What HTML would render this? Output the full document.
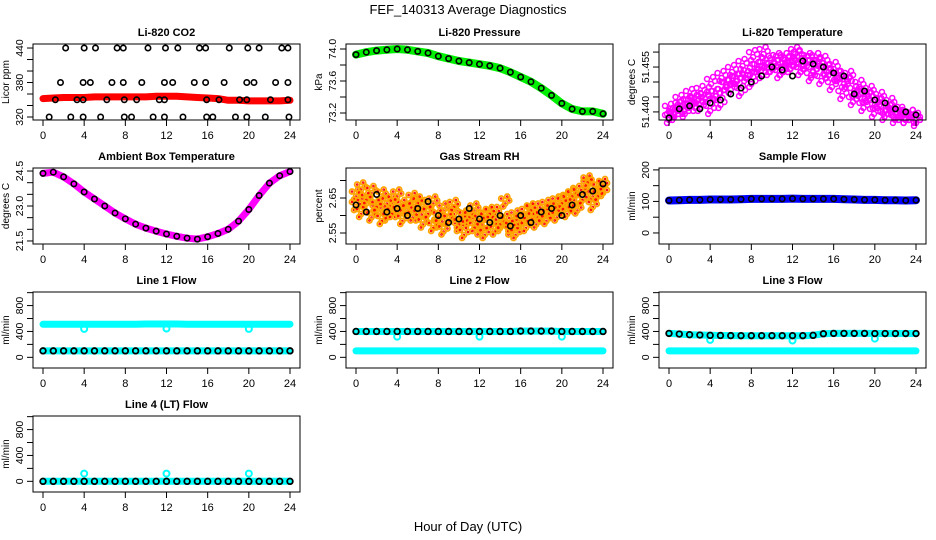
<!DOCTYPE html>
<html><head><meta charset="utf-8">
<style>
body{margin:0;background:#fff;}
svg{display:block;font-family:"Liberation Sans",sans-serif;}
</style></head>
<body>
<svg id="chart" width="936" height="540" viewBox="0 0 936 540" xmlns="http://www.w3.org/2000/svg">
<rect width="936" height="540" fill="#fff"/>
<text x="468" y="14" text-anchor="middle" font-size="13">FEF_140313  Average Diagnostics</text>
<text x="468" y="531" text-anchor="middle" font-size="13">Hour of Day (UTC)</text>
</svg>
<script>
// ---- data ----
const xTicks = [0,4,8,12,16,20,24];
const co2BandV = [352,353,354,354,354,355,355,355,355,355,355,356,356,356,355,354,353,352,349,349,348,348,348,348,349];
const co2BlackT = [2.2,4.0,5.1,7.2,7.8,10.2,11.9,13.1,15.2,15.8,18.1,19.9,21.0,23.2,23.8,
  1.7,3.9,4.6,6.7,7.8,9.6,11.8,12.6,14.7,15.8,17.6,19.8,20.5,22.6,23.8,
  1.2,3.3,3.9,6.2,7.9,9.1,11.3,11.8,15.9,17.1,19.1,19.8,22.1,23.8,
  0.6,2.7,3.9,5.6,7.9,8.6,10.7,11.8,13.6,15.9,16.5,18.7,19.8,21.6,23.9];
const co2BlackV = [440,440,440,440,440,440,440,440,440,440,440,440,440,440,440,
  380,380,380,380,380,380,380,380,380,380,380,380,380,380,380,
  350,350,350,350,350,350,350,350,350,350,350,350,350,350,
  320,320,320,320,320,320,320,320,320,320,320,320,320,320,320];
const pressV = [73.93,73.96,73.98,73.99,74.00,73.99,73.97,73.95,73.91,73.88,73.85,73.83,73.81,73.79,73.76,73.71,73.65,73.59,73.51,73.42,73.32,73.25,73.22,73.22,73.19];
const tempMag1 = [51.438,51.440,51.442,51.441,51.443,51.444,51.442,51.445,51.441,51.446,51.443,51.449,51.448,51.451,51.447,51.452,51.450,51.455,51.453,51.457,51.455,51.458,51.454,51.457,51.456,51.459,51.455,51.458,51.454,51.456,51.457,51.453,51.455,51.452,51.450,51.452,51.447,51.449,51.445,51.447,51.443,51.445,51.441,51.443,51.440,51.439,51.438,51.439,51.438];
const tempMag2 = [51.441,51.439,51.444,51.440,51.446,51.442,51.447,51.444,51.450,51.446,51.452,51.449,51.454,51.451,51.456,51.453,51.459,51.455,51.460,51.454,51.457,51.453,51.458,51.455,51.460,51.454,51.457,51.452,51.458,51.451,51.454,51.449,51.452,51.446,51.450,51.444,51.446,51.442,51.445,51.440,51.443,51.439,51.441,51.438,51.440,51.438,51.439,51.437];
const tempBlack = [51.438,51.441,51.442,51.441,51.443,51.444,51.446,51.448,51.450,51.452,51.455,51.454,51.452,51.457,51.456,51.455,51.453,51.452,51.446,51.447,51.444,51.443,51.441,51.440,51.439];
const ambV = [24.40,24.45,24.25,23.95,23.60,23.30,23.00,22.70,22.45,22.22,22.05,21.92,21.80,21.70,21.62,21.58,21.68,21.82,22.00,22.35,22.85,23.45,23.98,24.30,24.48];
const rh1 = [2.66,2.68,2.64,2.67,2.62,2.66,2.60,2.64,2.61,2.63,2.62,2.65,2.60,2.63,2.61,2.64,2.58,2.62,2.59,2.61,2.57,2.60,2.59,2.62,2.56,2.60,2.58,2.61,2.57,2.59,2.56,2.60,2.58,2.61,2.59,2.62,2.60,2.63,2.61,2.64,2.62,2.65,2.63,2.67,2.65,2.69,2.66,2.68,2.67];
const rh2 = [2.63,2.61,2.65,2.60,2.63,2.59,2.64,2.61,2.66,2.59,2.62,2.60,2.64,2.58,2.61,2.57,2.60,2.56,2.59,2.63,2.58,2.55,2.60,2.57,2.59,2.55,2.61,2.56,2.58,2.64,2.57,2.55,2.59,2.57,2.62,2.58,2.60,2.59,2.62,2.60,2.64,2.61,2.66,2.62,2.65,2.70,2.63,2.66,2.69];
const rhBlack = [2.63,2.61,2.66,2.61,2.62,2.60,2.62,2.64,2.60,2.58,2.59,2.62,2.59,2.58,2.60,2.57,2.60,2.58,2.61,2.62,2.60,2.63,2.66,2.67,2.69];
const sampleV = [103,104,105,105,106,106,106,107,108,108,108,108,109,108,108,108,108,107,106,105,105,104,104,103,104];
const dipT = [4,12,20];
const l1Upper = [510,510,510,510,510,510,510,510,510,510,515,515,515,515,512,512,512,512,512,512,512,512,512,512,512];
const l1Lower = [100,100,100,100,100,100,100,100,100,100,100,100,100,100,100,100,100,100,100,100,100,100,100,100,100];
const l1Dip = [440,445,440];
const l2Upper = [400,400,400,400,400,400,400,400,400,400,400,400,400,400,400,400,405,405,405,405,400,400,400,400,400];
const l2Lower = [100,100,100,100,100,100,100,100,100,100,100,100,100,100,100,100,100,100,100,100,100,100,100,100,100];
const l2Dip = [320,320,320];
const l3Upper = [370,360,350,345,340,338,336,335,335,335,335,335,335,335,340,365,370,370,370,370,368,368,368,368,368];
const l3Lower = [100,100,100,100,100,100,100,100,100,100,100,100,100,100,100,100,100,100,100,100,100,100,100,100,100];
const l3Dip = [270,260,290];
const l4Base = [0,0,0,0,0,0,0,0,0,0,0,0,0,0,0,0,0,0,0,0,0,0,0,0,0];
const l4Dip = [120,120,120];

// ---- layout ----
const NS = "http://www.w3.org/2000/svg";
const svg = document.getElementById('chart');
const colLeft = [33,346,659], rowTop = [44,168,292,416], BW = 267, BH = 76;
const jitterPx = [[-4,-3],[0,2],[4,-1],[-2,5],[2,-5]];
function mk(tag, attrs, parent){ const e=document.createElementNS(NS,tag); for(const k in attrs) e.setAttribute(k,attrs[k]); (parent||svg).appendChild(e); return e; }
function tIdx(i,n){ return i*24/(n-1); }

function panel(key, col, row, title, ylab, ylim, yTicks, yLabels){
  const g = mk('g',{});
  
  
  const L = colLeft[col], T = rowTop[row];
  const X = t => L + 10 + t*(BW-20)/24;
  const Y = v => T + BH - (v-ylim[0])/(ylim[1]-ylim[0])*BH;
  const tt = mk('text',{x:L+BW/2,y:T-8,'text-anchor':'middle','font-size':11,'font-weight':'bold'},g);
  tt.textContent = title;
  
  
  const yl = mk('text',{x:0,y:0,'text-anchor':'middle','font-size':10,transform:`translate(${L-24},${T+BH/2}) rotate(-90)`},g);
  yl.textContent = ylab;
  
  
  const data = mk('g',{},g);
  
  
  const box = mk('rect',{x:L,y:T,width:BW,height:BH,fill:'none',stroke:'#000','stroke-width':1},g);
  
  
  const xa = mk('g',{},g);
  
  
  mk('line',{x1:X(xTicks[0]),x2:X(xTicks[xTicks.length-1]),y1:T+BH,y2:T+BH,stroke:'#000'},xa);
  xTicks.forEach(t=>{
    mk('line',{x1:X(t),x2:X(t),y1:T+BH,y2:T+BH+6,stroke:'#000'},xa);
    const lb = mk('text',{x:X(t),y:T+BH+19,'text-anchor':'middle','font-size':11},xa);
    lb.textContent = t;
    
    
  });
  const ya = mk('g',{},g);
  
  
  yTicks.forEach(v=>{
    mk('line',{x1:L-6,x2:L,y1:Y(v),y2:Y(v),stroke:'#000'},ya);
  });
  yLabels.forEach(v=>{
    const lb = mk('text',{x:0,y:0,'text-anchor':'middle','font-size':10.5,transform:`translate(${L-10},${Y(v)}) rotate(-90)`},ya);
    lb.textContent = v;
    
    
  });
  return {X,Y,g:data};
}
function band(p, vals, color, w, name){
  const pts = vals.map((v,i)=>p.X(tIdx(i,vals.length)).toFixed(1)+','+p.Y(v).toFixed(1)).join(' ');
  const e = mk('polyline',{points:pts,fill:'none',stroke:color,'stroke-width':w,'stroke-linecap':'round','stroke-linejoin':'round'},p.g);
  
  
}
function circ(p, t, v, color, name, r, sw, dx, dy){
  const e = mk('circle',{cx:p.X(t)+(dx||0),cy:p.Y(v)+(dy||0),r:r||2.7,fill:'none',stroke:color,'stroke-width':sw||1.6},p.g);
  
  
}
function series(p, vals, color, name, r, sw){ vals.forEach((v,i)=>circ(p,tIdx(i,vals.length),v,color,name,r,sw)); }
function cloud(p, vals, color, name, r, sw, inner){
  vals.forEach((v,i)=>{ const t=tIdx(i,vals.length);
    jitterPx.forEach(j=>{ circ(p,t,v,color,name,r,sw,j[0],j[1]); if(inner) circ(p,t,v,inner,name+'-dot',0.8,1,j[0],j[1]); });
  });
}

// CO2
let p = panel('co2',0,0,'Li-820 CO2','Licor ppm',[314.8,447],[320,340,360,380,400,420,440],[320,380,440]);
band(p, co2BandV, '#ff0000', 7, 'co2-red-band');
co2BlackT.forEach((t,i)=>circ(p,t,co2BlackV[i],'#000','co2-black-point'));
// Pressure
p = panel('pressure',1,0,'Li-820 Pressure','kPa',[73.1125,74.0625],[73.2,73.4,73.6,73.8,74.0],['73.2','73.6','74.0']);
band(p, pressV, '#00ee00', 8, 'pressure-green-band');
series(p, pressV, '#000', 'pressure-black-point');
// Li temp
p = panel('li-temp',2,0,'Li-820 Temperature','degrees C',[51.4373,51.4627],[51.440,51.445,51.450,51.455,51.460],['51.440','51.455']);
cloud(p, tempMag1, '#ff00ff', 'temp-magenta-point', 2.5, 1.5);
cloud(p, tempMag2, '#ff00ff', 'temp-magenta-point', 2.5, 1.5);
series(p, tempBlack, '#000', 'temp-black-point');
// Ambient
p = panel('ambient',0,1,'Ambient Box Temperature','degrees C',[21.37,24.63],[21.5,22.0,22.5,23.0,23.5,24.0,24.5],['21.5','23.0','24.5']);
band(p, ambV, '#ff00ff', 7, 'ambient-magenta-band');
series(p, ambV, '#000', 'ambient-black-point');
// RH
p = panel('rh',1,1,'Gas Stream RH','percent',[2.5186,2.7357],[2.55,2.60,2.65,2.70],['2.55','2.65']);
cloud(p, rh1, '#ffa500', 'rh-orange-point', 2.5, 1.8, '#ff0000');
cloud(p, rh2, '#ffa500', 'rh-orange-point', 2.5, 1.8, '#ff0000');
series(p, rhBlack, '#000', 'rh-black-point');
// Sample flow
p = panel('sample-flow',2,1,'Sample Flow','ml/min',[-35,206],[0,50,100,150,200],[0,100,200]);
band(p, sampleV, '#0000ff', 8, 'sample-blue-band');
series(p, sampleV, '#000', 'sample-black-point');
// Line flows
const fl = [-165,1010], ft=[0,200,400,600,800,1000], fl2=[0,400,800];
function flow(key,col,row,title,up,low,dip,blackUp){
  const q = panel(key,col,row,title,'ml/min',fl,ft,fl2);
  band(q, up, '#00ffff', 7, key+'-cyan-upper');
  band(q, low, '#00ffff', 7, key+'-cyan-lower');
  dipT.forEach((t,i)=>circ(q,t,dip[i],'#00ffff',key+'-cyan-dip',3,2));
  series(q, blackUp?up:low, '#000', key+'-black-point', 2.8, 1.8);
}
flow('line1',0,2,'Line 1 Flow',l1Upper,l1Lower,l1Dip,false);
flow('line2',1,2,'Line 2 Flow',l2Upper,l2Lower,l2Dip,true);
flow('line3',2,2,'Line 3 Flow',l3Upper,l3Lower,l3Dip,true);
p = panel('line4',0,3,'Line 4 (LT) Flow','ml/min',fl,ft,fl2);
band(p, l4Base, '#00ffff', 7, 'line4-cyan-band');
dipT.forEach((t,i)=>circ(p,t,l4Dip[i],'#00ffff','line4-cyan-dip',3,2));
series(p, l4Base, '#000', 'line4-black-point', 2.8, 1.8);
</script>
</body></html>
